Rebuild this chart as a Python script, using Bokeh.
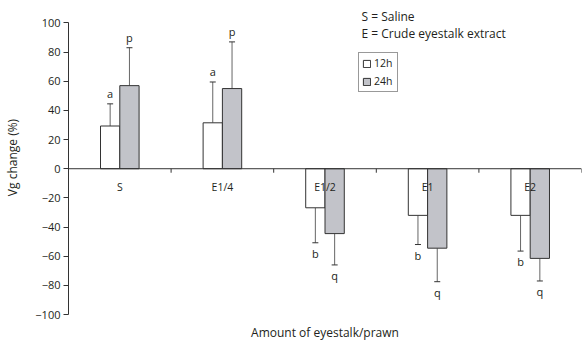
import math
from bokeh.plotting import figure
from bokeh.models import (Range1d, LinearAxis, FixedTicker, Label, Span, ColumnDataSource)
from bokeh.core.properties import value
from bokeh.embed import file_html
from bokeh.resources import INLINE

# Vitellogenin change after eyestalk extract injection
groups = ["S", "E1/4", "E1/2", "E1", "E2"]
mean_12h = [29.3, 31.5, -26.8, -32.0, -32.0]
err_12h = [15.2, 28.0, 24.0, 20.0, 24.5]
sig_12h = ["a", "a", "b", "b", "b"]
mean_24h = [57.0, 55.0, -44.5, -54.5, -61.5]
err_24h = [26.0, 32.0, 21.5, 23.0, 15.5]
sig_24h = ["p", "p", "q", "q", "q"]
y_ticks = [-100, -80, -60, -40, -20, 0, 20, 40, 60, 80, 100]

FONT = "Open Sans"
TEXT = "#231f20"
BAR_LINE = "#333333"
GREY = "#c2c3c9"
ERR = "#666666"
BAR_W = 0.188

p = figure(width=582, height=343, output_backend="svg", toolbar_location=None,
           x_range=Range1d(0, 5), y_range=Range1d(-100, 115.4),
           x_axis_location=None, y_axis_location=None,
           min_border_left=68, min_border_right=1, min_border_top=0,
           min_border_bottom=28)
p.outline_line_color = None
p.xgrid.visible = False
p.ygrid.visible = False
p.background_fill_color = "white"
p.border_fill_color = "white"

# y axis
yaxis = LinearAxis(ticker=FixedTicker(ticks=y_ticks), bounds=(-100, 100),
                   axis_label="Vg change (%)")
yaxis.axis_line_color = BAR_LINE
yaxis.major_tick_line_color = BAR_LINE
yaxis.major_tick_in = 0
yaxis.major_tick_out = 5
yaxis.minor_tick_line_color = None
yaxis.major_label_text_font = FONT
yaxis.major_label_text_font_size = "11px"
yaxis.major_label_text_color = TEXT
yaxis.major_label_standoff = 3
yaxis.axis_label_text_font = FONT
yaxis.axis_label_text_font_size = "12px"
yaxis.axis_label_text_font_style = "normal"
yaxis.axis_label_text_color = TEXT
yaxis.axis_label_standoff = 11
p.add_layout(yaxis, "left")

# bottom axis that only carries the x title
xtitle = LinearAxis(ticker=FixedTicker(ticks=[]), axis_label="Amount of eyestalk/prawn")
xtitle.axis_line_color = None
xtitle.major_tick_line_color = None
xtitle.minor_tick_line_color = None
xtitle.major_tick_out = 0
xtitle.major_tick_in = 0
xtitle.major_label_standoff = 0
xtitle.axis_label_standoff = 9
xtitle.axis_label_text_font = FONT
xtitle.axis_label_text_font_size = "12px"
xtitle.axis_label_text_font_style = "normal"
xtitle.axis_label_text_color = TEXT
p.add_layout(xtitle, "below")

centers = [i + 0.5 for i in range(len(groups))]
bounds_x = [i + 1 for i in range(len(groups))]

# zero line with short downward ticks between groups
p.add_layout(Span(location=0, dimension="width", line_color=BAR_LINE, line_width=1))
p.ray(x=bounds_x, y=[0] * len(bounds_x), length=4, length_units="screen",
      angle=-math.pi / 2, line_color=BAR_LINE, line_width=1)

x12 = [c - BAR_W / 2 for c in centers]
x24 = [c + BAR_W / 2 for c in centers]

def tips(means, errs):
    return [m + e if m >= 0 else m - e for m, e in zip(means, errs)]

src12 = ColumnDataSource(dict(x=x12, top=mean_12h, tip=tips(mean_12h, err_12h), sig=sig_12h))
src24 = ColumnDataSource(dict(x=x24, top=mean_24h, tip=tips(mean_24h, err_24h), sig=sig_24h))

# error bars (one-sided, away from zero)
for src in (src12, src24):
    p.segment(x0="x", y0="top", x1="x", y1="tip", source=src, line_color=ERR, line_width=1)
    p.scatter(x="x", y="tip", source=src, marker="dash", size=6, line_color=BAR_LINE,
              line_width=1)

p.vbar(x="x", top="top", bottom=0, width=BAR_W, source=src12, fill_color="white",
       line_color=BAR_LINE, line_width=1, legend_label="12h")
p.vbar(x="x", top="top", bottom=0, width=BAR_W, source=src24, fill_color=GREY,
       line_color=BAR_LINE, line_width=1, legend_label="24h")

# group names just under the zero line
p.text(x=centers, y=[0] * len(groups), text=groups, text_align="center",
       text_baseline="middle", y_offset=18, text_font=value(FONT),
       text_font_size="10.5px", text_color=TEXT)

# significance letters beyond the error bar tips
for src, means in ((src12, mean_12h), (src24, mean_24h)):
    pos = [i for i, m in enumerate(means) if m >= 0]
    neg = [i for i, m in enumerate(means) if m < 0]
    d = src.data
    for idx, base, off in ((pos, "bottom", -3), (neg, "top", 3)):
        sub = ColumnDataSource(dict(x=[d["x"][i] for i in idx], y=[d["tip"][i] for i in idx],
                                    t=[d["sig"][i] for i in idx]))
        p.text(x="x", y="y", text="t", source=sub, text_align="center",
               text_baseline=base, y_offset=off, text_font=value(FONT),
               text_font_size="11px", text_color=TEXT)

leg = p.legend[0]
leg.location = (290, 222)
leg.glyph_width = 9
leg.glyph_height = 9
leg.label_height = 14
leg.label_standoff = 3
leg.spacing = 4
leg.padding = 3
leg.margin = 0
leg.border_line_color = BAR_LINE
leg.border_line_width = 1
leg.label_text_font = FONT
leg.label_text_font_size = "10.5px"
leg.label_text_color = TEXT
leg.background_fill_alpha = 1

# abbreviation key
for txt, yv in (("S = Saline", 104.4), ("E = Crude eyestalk extract", 92.8)):
    p.add_layout(Label(x=2.856, y=yv, text=txt, text_font=FONT, text_font_size="12px",
                       text_color=TEXT, text_baseline="middle", text_align="left"))

open("out.html", "w").write(file_html(p, INLINE))
